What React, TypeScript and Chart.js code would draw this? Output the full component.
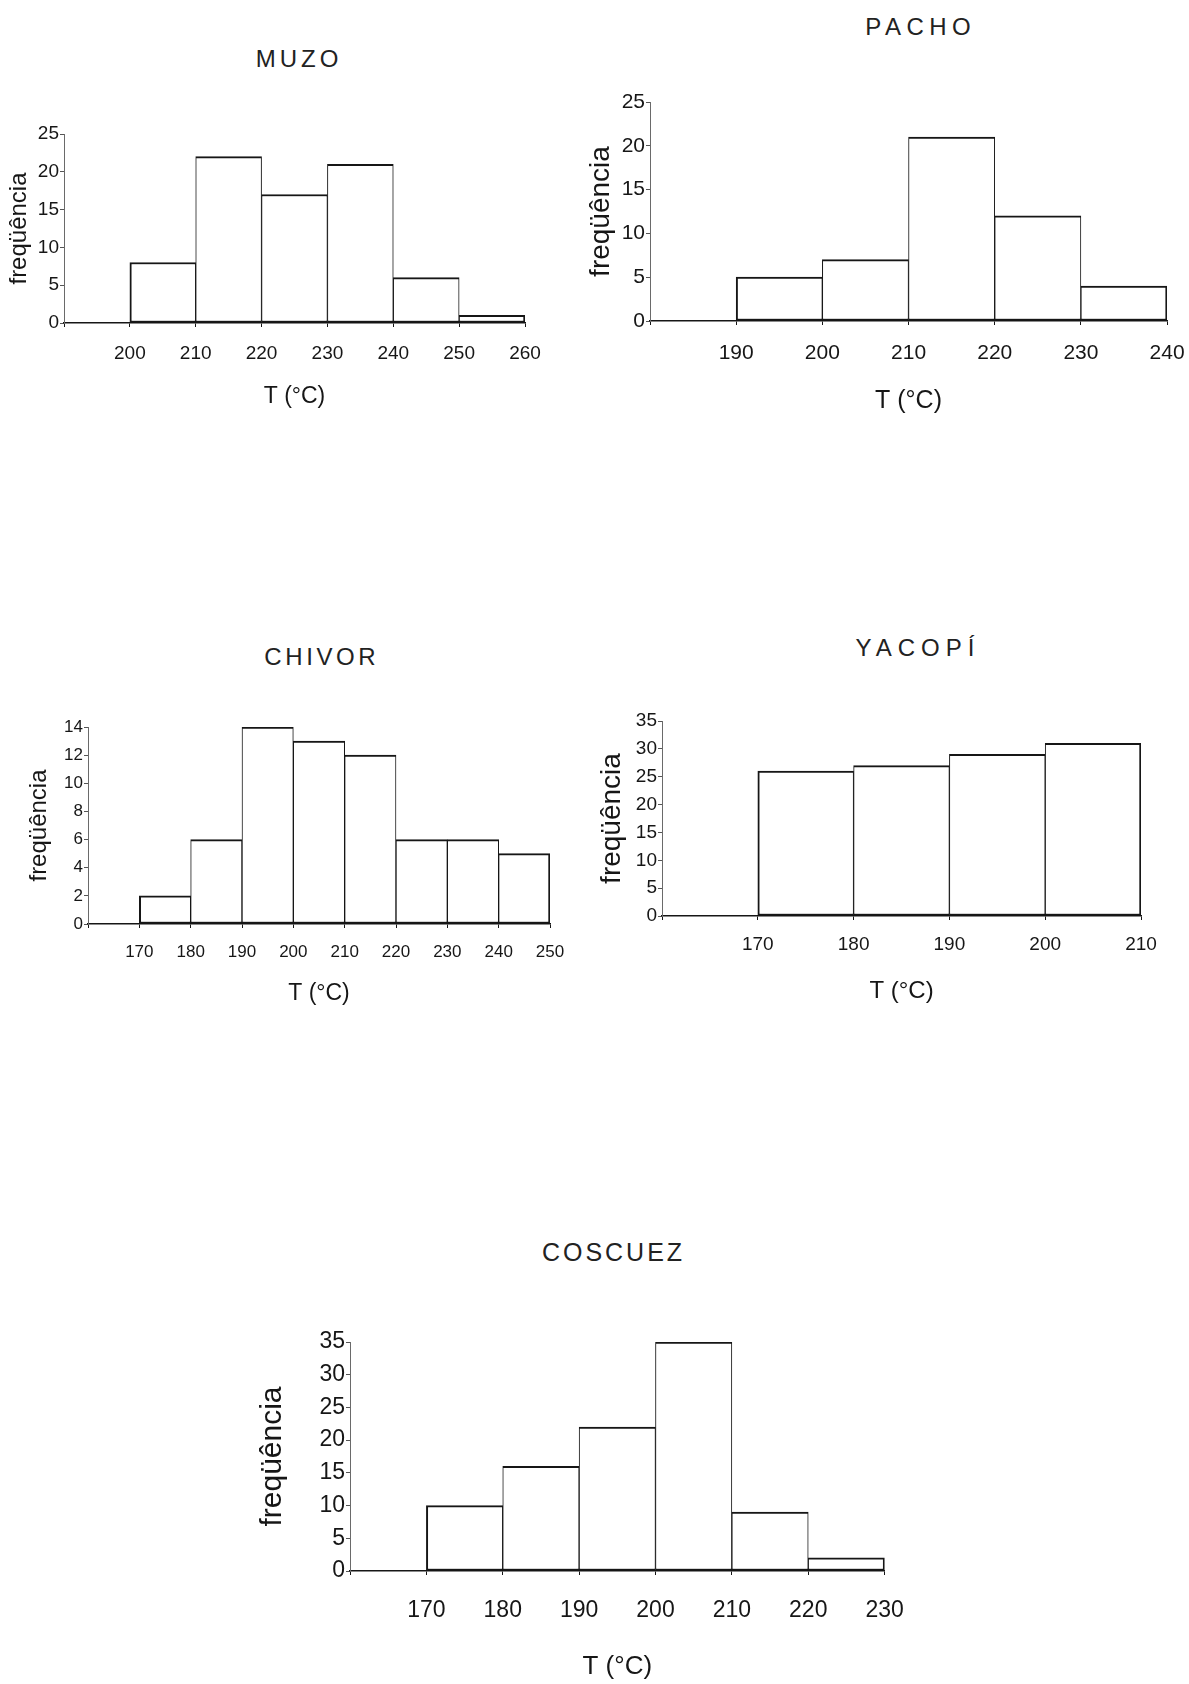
import React, { useEffect, useRef } from 'react';
import { Chart, registerables } from 'chart.js';

Chart.register(...registerables);

// ---------- data ----------
const yAxisTitle = 'freqüência';
const xAxisTitle = 'T (°C)';
const binWidth = 10;

const muzoBins = [200, 210, 220, 230, 240, 250];
const muzoFreq = [8, 22, 17, 21, 6, 1];

const pachoBins = [190, 200, 210, 220, 230];
const pachoFreq = [5, 7, 21, 12, 4];

const chivorBins = [170, 180, 190, 200, 210, 220, 230, 240];
const chivorFreq = [2, 6, 14, 13, 12, 6, 6, 5];

const yacopiBins = [170, 180, 190, 200];
const yacopiFreq = [26, 27, 29, 31];

const coscuezBins = [170, 180, 190, 200, 210, 220];
const coscuezFreq = [10, 16, 22, 35, 9, 2];

// axis ranges (tick labels): [xMin, xMax, yMax, yStep]
const muzoAxis = [190, 260, 25, 5];
const pachoAxis = [180, 240, 25, 5];
const chivorAxis = [160, 250, 14, 2];
const yacopiAxis = [160, 210, 35, 5];
const coscuezAxis = [160, 230, 35, 5];

// ---------- layout ----------
type Box = {
  xLeft: number; xRight: number; topY: number; zeroY: number;
  labelsY: number; xTitleY: number; yTitleX: number; titleX: number; titleY: number;
};
type Fonts = { tick: number; axis: number; xAxis: number; title: number; ls: number };
type Spec = { title: string; bins: number[]; freq: number[]; axis: number[]; box: Box; fonts: Fonts };

const panels: Spec[] = [
  {
    title: 'MUZO', bins: muzoBins, freq: muzoFreq, axis: muzoAxis,
    box: { xLeft: 64, xRight: 525, topY: 134, zeroY: 323, labelsY: 354, xTitleY: 397, yTitleX: 19, titleX: 297, titleY: 59 },
    fonts: { tick: 19, axis: 24, xAxis: 23, title: 24, ls: 4 },
  },
  {
    title: 'PACHO', bins: pachoBins, freq: pachoFreq, axis: pachoAxis,
    box: { xLeft: 650, xRight: 1168, topY: 102, zeroY: 321, labelsY: 353, xTitleY: 401, yTitleX: 601, titleX: 918, titleY: 27 },
    fonts: { tick: 21, axis: 28, xAxis: 25, title: 24, ls: 5.5 },
  },
  {
    title: 'CHIVOR', bins: chivorBins, freq: chivorFreq, axis: chivorAxis,
    box: { xLeft: 88, xRight: 550, topY: 727, zeroY: 924, labelsY: 952, xTitleY: 994, yTitleX: 39, titleX: 320, titleY: 657 },
    fonts: { tick: 17, axis: 24, xAxis: 23, title: 24, ls: 3.6 },
  },
  {
    title: 'YACOPÍ', bins: yacopiBins, freq: yacopiFreq, axis: yacopiAxis,
    box: { xLeft: 662, xRight: 1141, topY: 721, zeroY: 916, labelsY: 945, xTitleY: 991, yTitleX: 612, titleX: 915, titleY: 648 },
    fonts: { tick: 19, axis: 28, xAxis: 24, title: 24, ls: 6 },
  },
  {
    title: 'COSCUEZ', bins: coscuezBins, freq: coscuezFreq, axis: coscuezAxis,
    box: { xLeft: 350, xRight: 894, topY: 1342, zeroY: 1571, labelsY: 1611, xTitleY: 1667, yTitleX: 273, titleX: 612, titleY: 1252 },
    fonts: { tick: 23, axis: 30, xAxis: 26, title: 25, ls: 3 },
  },
];

const TICK_FONT = "'Liberation Sans', Arial, sans-serif";
const TEXT_FONT = "'Liberation Sans', Arial, sans-serif";
const INK = '#161616';

function Histogram({ spec }: { spec: Spec }) {
  const ref = useRef<HTMLCanvasElement>(null);
  const b = spec.box;
  const f = spec.fonts;
  const [xMin, xMax, yMax, yStep] = spec.axis;
  const canvasLeft = Math.floor(b.yTitleX - f.axis * 0.6 - 6);
  const canvasTop = b.topY - 16;
  const canvasRight = b.xRight + 32;
  const canvasBottom = Math.ceil(b.xTitleY + f.xAxis * 0.6 + 6);
  const w = canvasRight - canvasLeft;
  const h = canvasBottom - canvasTop;
  const yWidth = b.xLeft - canvasLeft;
  const xHeight = canvasBottom - b.zeroY;
  const tickLen = 4;

  useEffect(() => {
    const n = spec.bins.length;
    const chart = new Chart(ref.current as HTMLCanvasElement, {
      type: 'bar',
      data: {
        datasets: [
          {
            data: spec.bins.map((e, i) => ({ x: e + binWidth / 2, y: spec.freq[i] })),
            backgroundColor: '#ffffff',
            borderColor: INK,
            borderWidth: ((ctx: any) => ({
              top: 2,
              bottom: 2,
              left: ctx.dataIndex === 0 ? 2 : 1,
              right: ctx.dataIndex === n - 1 ? 2 : 1,
            })) as any,
            borderSkipped: false,
            barPercentage: 1,
            categoryPercentage: 1,
            grouped: false,
          } as any,
        ],
      },
      options: {
        animation: false,
        responsive: false,
        maintainAspectRatio: false,
        layout: { padding: { left: 0, right: canvasRight - b.xRight, top: b.topY - canvasTop, bottom: 0 } },
        plugins: { legend: { display: false }, tooltip: { enabled: false }, title: { display: false } },
        scales: {
          x: {
            type: 'linear',
            min: xMin,
            max: xMax,
            offset: false,
            grid: { display: true, drawOnChartArea: false, drawTicks: true, tickLength: tickLen, color: INK, offset: false },
            border: { display: true, color: INK, width: 1.5 },
            ticks: {
              stepSize: binWidth,
              autoSkip: false,
              maxRotation: 0,
              color: INK,
              font: { family: TICK_FONT, size: f.tick },
              padding: b.labelsY - b.zeroY - tickLen - f.tick * 0.6,
              callback: (v: any) => (Number(v) === xMin ? '' : String(v)),
            },
            title: {
              display: true,
              text: xAxisTitle,
              color: INK,
              font: { family: TEXT_FONT, size: f.xAxis },
              padding: { top: 0, bottom: canvasBottom - b.xTitleY - f.xAxis * 0.6 },
            },
            afterFit: (s: any) => { s.height = xHeight; },
          } as any,
          y: {
            type: 'linear',
            min: 0,
            max: yMax,
            grid: { display: true, drawOnChartArea: false, drawTicks: true, tickLength: tickLen, color: '#555' },
            border: { display: true, color: '#6a6a6a', width: 1, dash: [2, 2] },
            ticks: {
              stepSize: yStep,
              color: INK,
              font: { family: TICK_FONT, size: f.tick },
              padding: 1,
            },
            title: {
              display: true,
              text: yAxisTitle,
              color: INK,
              font: { family: TEXT_FONT, size: f.axis },
              padding: { top: b.yTitleX - canvasLeft - f.axis * 0.6, bottom: 0 },
            },
            afterFit: (s: any) => { s.width = yWidth; },
          } as any,
        },
      },
    });
    return () => chart.destroy();
  }, []);

  return (
    <>
      <div
        style={{
          position: 'absolute',
          left: b.titleX + f.ls / 2,
          top: b.titleY,
          transform: 'translate(-50%, -50%)',
          fontFamily: TEXT_FONT,
          fontSize: f.title,
          letterSpacing: f.ls,
          whiteSpace: 'nowrap',
          color: '#222',
          lineHeight: 1,
        }}
      >
        {spec.title}
      </div>
      <canvas
        ref={ref}
        width={w}
        height={h}
        style={{ position: 'absolute', left: canvasLeft, top: canvasTop, width: w, height: h }}
      />
    </>
  );
}

export default function App() {
  return (
    <div style={{ position: 'absolute', left: 0, top: 0, width: 1189, height: 1684, overflow: 'hidden', background: '#fff' }}>
      {panels.map((p) => (
        <Histogram key={p.title} spec={p} />
      ))}
    </div>
  );
}
